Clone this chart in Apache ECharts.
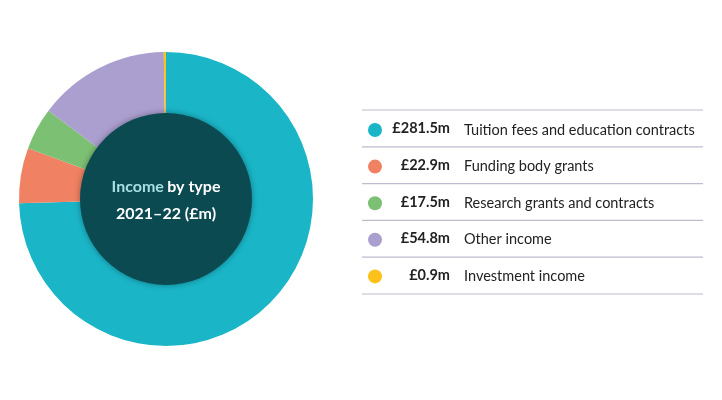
<!DOCTYPE html>
<html>
<head>
<meta charset="utf-8">
<script src="https://cdn.jsdelivr.net/npm/echarts@6/dist/echarts.min.js"></script>
<style>
  html, body { margin: 0; padding: 0; background: #fff; }
  #chart { width: 722px; height: 400px; }
</style>
</head>
<body>
<div id="chart"></div>
<script>
// Datos del gráfico
const categorias = ['Tuition fees and education contracts', 'Funding body grants', 'Research grants and contracts', 'Other income', 'Investment income'];
const valores = [281.5, 22.9, 17.5, 54.8, 0.9];
const colores = ['#1ab6c8', '#f08263', '#7cc073', '#ab9fcf', '#fcc21b'];

const chart = echarts.init(document.getElementById('chart'));

const fuente = 'Lato';
const paso = 36.8; // alto de cada fila de la leyenda

// Lineas separadoras y valores de la leyenda
const extras = [];
for (let i = 0; i <= categorias.length; i++) {
    const y = 110 + i * paso;
    extras.push({
        type: 'line',
        shape: { x1: 362, y1: y, x2: 703, y2: y },
        style: { stroke: '#bdbccf', lineWidth: 1.2 },
        z: 1
    });
}
valores.forEach((v, i) => {
    extras.push({
        type: 'text',
        x: 450,
        y: 110 + paso * (i + 0.5),
        style: {
            text: '£' + v.toFixed(1) + 'm',
            align: 'right',
            verticalAlign: 'middle',
            fill: '#222',
            font: 'bold 14.5px ' + fuente
        },
        z: 2
    });
});

const option = {
    backgroundColor: '#ffffff',
    color: colores,
    legend: {
        orient: 'vertical',
        left: 363,
        top: 117.5,
        icon: 'circle',
        itemWidth: 14,
        itemHeight: 14,
        itemGap: 21.6,
        selectedMode: false,
        data: categorias,
        textStyle: {
            padding: [0, 0, 0, 77],
            fontSize: 14.5,
            color: '#222',
            fontFamily: fuente
        }
    },
    graphic: extras.concat([
        {
            type: 'circle',
            shape: { cx: 166, cy: 199, r: 86 },
            style: { fill: '#0c4a52', shadowBlur: 6, shadowColor: 'rgba(0,0,0,0.35)' },
            z: 10
        },
        {
            type: 'text',
            x: 166,
            y: 200,
            z: 11,
            style: {
                text: '{a|Income} {b|by type}\n{b|2021–22 (£m)}',
                align: 'center',
                verticalAlign: 'middle',
                rich: {
                    a: { fill: '#a9dfe4', fontSize: 16, fontWeight: 'bold', fontFamily: fuente, lineHeight: 27 },
                    b: { fill: '#ffffff', fontSize: 16, fontWeight: 'bold', fontFamily: fuente, lineHeight: 27 }
                }
            }
        }
    ]),
    series: [{
        type: 'pie',
        center: [166, 199],
        radius: [85, 147],
        startAngle: 90,
        clockwise: true,
        avoidLabelOverlap: false,
        label: { show: false },
        labelLine: { show: false },
        emphasis: { disabled: true },
        animation: false,
        itemStyle: { borderWidth: 0 },
        data: categorias.map((c, i) => ({ name: c, value: valores[i] }))
    }]
};

chart.setOption(option);
</script>
</body>
</html>
